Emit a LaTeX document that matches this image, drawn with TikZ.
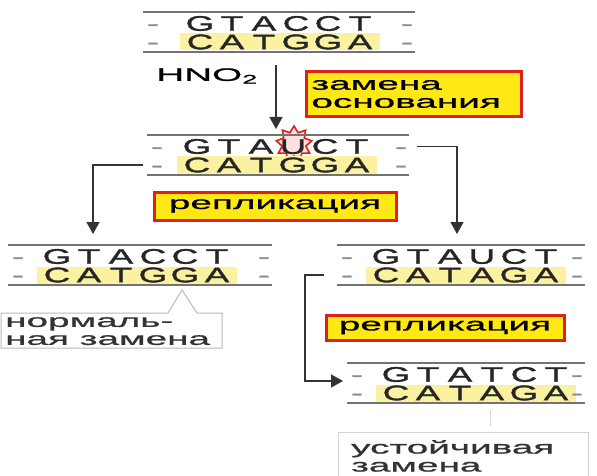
\documentclass[tikz,border=0pt]{standalone}
\usepackage{fontspec}
\setmainfont{Liberation Sans}
\newfontfamily\dnafont{Liberation Sans}[FakeStretch=1.75,FakeBold=1.6]
\newfontfamily\notefont{Liberation Sans}[FakeStretch=2.15,FakeBold=1]
\usetikzlibrary{arrows.meta,shapes.geometric}

\definecolor{strandyellow}{RGB}{250,242,160}
\definecolor{boxyellow}{RGB}{255,232,20}
\definecolor{boxred}{RGB}{222,32,28}

\newcommand{\dnatext}{\dnafont\fontsize{21}{18.5}\selectfont}
\newcommand{\notetext}{\notefont\fontsize{18}{18}\selectfont}

% letters of a strand on a fixed pitch
\newcommand{\spaced}[1]{\spacedstep#1\relax}
\newcommand{\spacedstep}[1]{\ifx#1\relax\else\makebox[32pt]{#1}\expandafter\spacedstep\fi}

% name, text x, top line y, line left, line right, upper strand, lower strand
\newcommand{\dnablock}[7]{%
  \coordinate (#1) at (#2,#3);
  \coordinate (#1u) at (#2,#3+11.5);
  \coordinate (#1l) at (#2,#3+30);
  \draw[dnaline] (#4,#3) -- (#5,#3);
  \draw[dnaline] (#4,#3+40) -- (#5,#3+40);
  \fill[strandyellow] (#2-100,#3+21.5) rectangle (#2+100,#3+38.5);
  \node[strand] (#1s) at (#2,#3+20.75) {\spaced{#6}\\\spaced{#7}};
  \node[strand, text=black!45] (#1a) at (#4+10,#3+20.75) {\vphantom{G}-\\\vphantom{G}-};
  \node[strand, text=black!45] (#1b) at (#5-8,#3+20.75) {\vphantom{G}-\\\vphantom{G}-};
}

\tikzset{
  dnaline/.style={black!55, line width=1.5pt},
  strand/.style={font=\dnatext, text=black!85, align=center, inner sep=0pt},
  flow/.style={-{Triangle[width=13pt,length=12pt]}, line width=1.3pt, black!80},
  redbox/.style={draw=boxred, line width=3pt, fill=boxyellow, font=\notetext, inner sep=5pt},
  notelabel/.style={font=\notetext, text=black!80, align=left, inner sep=3pt},
  noteline/.style={gray!55, line width=1pt}
}

\begin{document}
\begin{tikzpicture}[x=1pt, y=-1pt]
\useasboundingbox (0,0) rectangle (597,476);

% starting DNA
\dnablock{b1}{280}{12}{143}{415}{GTACCT}{CATGGA}
\node[font=\notetext] (hno) at (207,76) {HNO\textsubscript{2}};
\coordinate (hstart) at (276,65);
\node[redbox, anchor=north west, text width=205pt, minimum height=45pt, align=left] (subst) at (305,70) {замена\\основания};

% damaged DNA
\node[star, star points=9, star point ratio=1.5, minimum size=36pt, draw=boxred, fill=red!12, line width=1.6pt] (mut) at (294,144) {};
\dnablock{b2}{277}{135}{147}{409}{GTAUCT}{CATGGA}
\draw[flow, shorten >=6pt] (hstart) -- (hstart |- b2);
\node[redbox, minimum width=242pt, minimum height=28pt] (repl1) at (275,206) {репликация};

% first replication
\dnablock{b3}{137}{245}{8}{272}{GTACCT}{CATGGA}
\dnablock{b4}{466}{245}{337}{585}{GTAUCT}{CATAGA}
\coordinate (lcorner) at (93,165);
\coordinate (rcorner) at (457,146.5);
\draw[flow, shorten >=11pt] ([xshift=-134pt]b2l) -- (lcorner) -- (lcorner |- b3);
\draw[flow, shorten >=11pt] ([xshift=140pt]b2u) -- (rcorner) -- (rcorner |- b4);

\node[notelabel, anchor=north west] (normal) at (2,314) {нормаль-\\ная замена};
\draw[noteline] (1,313) -- (168,313) -- (182,290) -- (197,313) -- (222,313) -- (222,348) -- (1,348) -- cycle;

% second replication
\node[redbox, minimum width=238pt, minimum height=25pt] (repl2) at (445,327.5) {репликация};
\dnablock{b5}{476}{363}{347}{585}{GTATCT}{CATAGA}
\coordinate (dtop) at (305,275);
\coordinate (dbot) at (305,381);
\draw[flow] ([xshift=-142pt]b4l) -- (dtop) -- (dbot) -- ++(38,0);

\node[notelabel, anchor=north west] (stable) at (348,437) {устойчивая\\замена};
\draw[noteline, gray!35] (338,476) -- (338,432) -- (588,432) -- (588,476);
\draw[noteline, gray!30] (490,410) -- (490,426);
\end{tikzpicture}
\end{document}
